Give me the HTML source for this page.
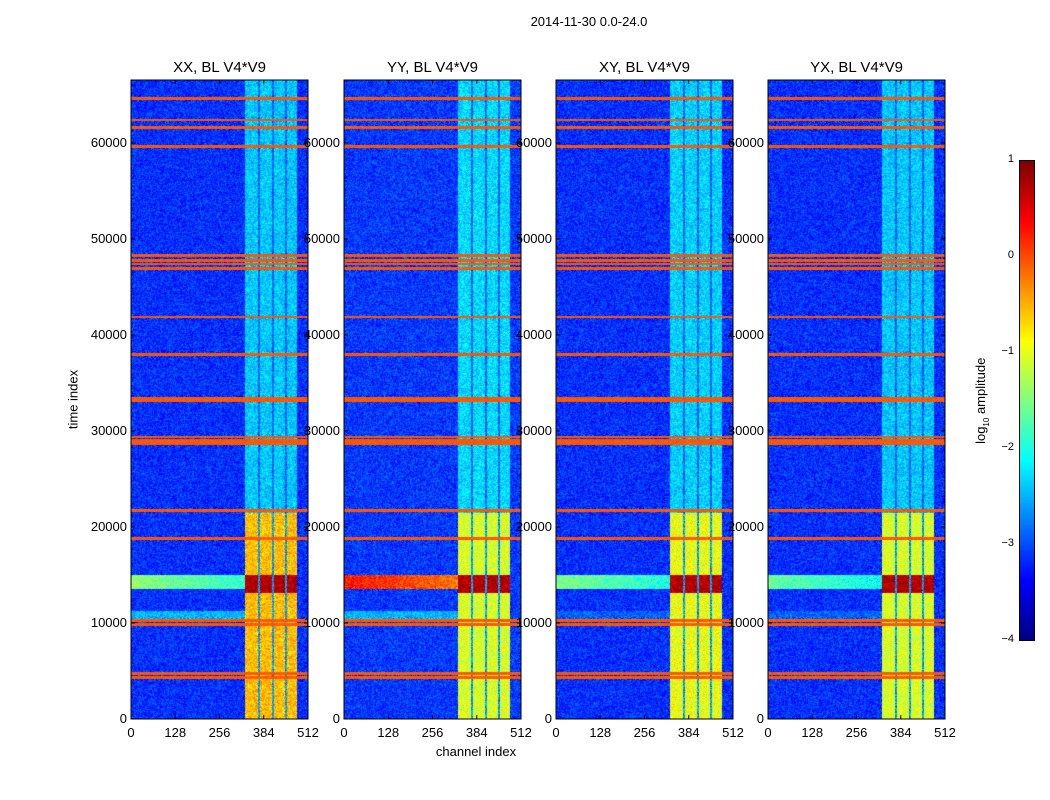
<!DOCTYPE html>
<html><head><meta charset="utf-8">
<style>
body{margin:0;background:#fff;width:1050px;height:800px;position:relative;overflow:hidden;font-family:"Liberation Sans",sans-serif;color:#000}
.t{position:absolute;font-size:13px;white-space:nowrap}
canvas{position:absolute}
</style></head><body>
<div class="t" style="left:489px;top:14px;width:200px;text-align:center">2014-11-30 0.0-24.0</div>
<div class="t" style="left:376px;top:744px;width:200px;text-align:center">channel index</div>
<div class="t" style="left:23px;top:392px;width:100px;text-align:center;transform:rotate(-90deg)">time index</div>
<div class="t" style="left:922px;top:392px;width:120px;text-align:center;transform:rotate(-90deg)">log<sub style="font-size:8px">10</sub> amplitude</div>
<canvas id="cb" width="15" height="480" style="left:1019px;top:160px;border:1px solid #000;box-sizing:border-box;width:16px;height:481px"></canvas>
<div id="root"></div>
<script>
// data
const panelTitles = ["XX, BL V4*V9","YY, BL V4*V9","XY, BL V4*V9","YX, BL V4*V9"];
const xTicks = [0,128,256,384,512];
const yTicks = [0,10000,20000,30000,40000,50000,60000];
const cbTicks = [1,0,-1,-2,-3,-4];
const rfiRows = [64690,62400,61670,59690,48330,47810,47400,46980,41880,38020,33440,33130,29380,29060,28750,21770,18850,10310,9900,4790,4380];
const bandStarts = [327,373,411,449];
const bandEnds = [365,405,443,480];
const backgroundLevel = [-3.15,-3.1,-3.15,-3.15];
const bandUpperLevel = [-2.4,-2.3,-2.35,-2.4];
const bandLowerLevel = [-0.55,-1.05,-0.95,-1.05];
const crossBandLevel = [-1.4,0.3,-1.5,-1.6];
const cyanStripLevel = [-2.5,-2.5,-2.9,-2.9];
const coreLevel = 0.75, rfiLevel = -0.05;
const tMax = 66560, chMax = 512;
const vMin = -4, vMax = 1;

function jet(v){
  let x=(v-vMin)/(vMax-vMin); x=Math.max(0,Math.min(1,x));
  const f=(a)=>Math.max(0,Math.min(1,1.5-Math.abs(4*x-a)));
  return [f(3)*255,f(2)*255,f(1)*255];
}
function hash(a,b){let h=(a*374761393+b*668265263)|0;h=(h^(h>>>13))*1274126177|0;return ((h^(h>>>16))>>>0)/4294967296;}
function isRfi(t){ for(const r of rfiRows){ if(Math.abs(t-r)<110) return true; } return false; }
function value(p,ch,t){
  let inBand=-1;
  for(let i=0;i<bandStarts.length;i++) if(ch>=bandStarts[i]&&ch<=bandEnds[i]) inBand=i;
  if(inBand>=0){
    if(t>=13200&&t<=15000) return coreLevel;
    if(t>21500) return bandUpperLevel[p];
    return bandLowerLevel[p];
  }
  if(t>=13600&&t<=15000 && ch<bandStarts[0]) return crossBandLevel[p]-(ch/bandStarts[0])*0.5;
  if(t>=10300&&t<=11250 && ch<bandStarts[0]) return cyanStripLevel[p];
  if(ch>bandStarts[0] && ch<bandEnds[3]) return t>21500?-2.9:-2.6;
  return backgroundLevel[p];
}
const L=[131,344,556,768], T=80, W=177, H=639;
const sx=(ch)=>ch/chMax*W, sy=(t)=>H - t/tMax*H;
const root=document.getElementById('root');
panelTitles.forEach((title,p)=>{
  const c=document.createElement('canvas');
  c.width=W;c.height=H;
  c.style.left=L[p]+'px';c.style.top=T+'px';
  
  
  const ctx=c.getContext('2d');const img=ctx.createImageData(W,H);
  for(let y=0;y<H;y++){const t=(H-y)/H*tMax;const rfi=isRfi(t);
    for(let x=0;x<W;x++){const ch=x/W*chMax;
      const v=rfi?rfiLevel+(hash(x+p*997,y)-0.5)*0.15:value(p,ch,t)+(hash(x+p*997,y)-0.5)*0.7;
      const col=jet(v);const k=(y*W+x)*4;
      img.data[k]=col[0];img.data[k+1]=col[1];img.data[k+2]=col[2];img.data[k+3]=255;}}
  ctx.putImageData(img,0,0);
  root.appendChild(c);
  const svgNS='http://www.w3.org/2000/svg';
  const s=document.createElementNS(svgNS,'svg');
  s.setAttribute('width',W+2);s.setAttribute('height',H+2);
  s.style.position='absolute';s.style.left=(L[p]-1)+'px';s.style.top=(T-1)+'px';
  
  
  let inner=`<rect x="1" y="1" width="${W}" height="${H}" fill="none" stroke="#000"/>`;
  xTicks.forEach(v=>{const x=1+sx(v);inner+=`<line x1="${x}" x2="${x}" y1="${H+1}" y2="${H-3}" stroke="#000"/><line x1="${x}" x2="${x}" y1="1" y2="5" stroke="#000"/>`;});
  yTicks.forEach(v=>{const y=1+sy(v);inner+=`<line x1="1" x2="5" y1="${y}" y2="${y}" stroke="#000"/><line x1="${W-3}" x2="${W+1}" y1="${y}" y2="${y}" stroke="#000"/>`;});
  s.innerHTML=inner;root.appendChild(s);
  const tt=document.createElement('div');tt.className='t';
  
  
  tt.style.cssText=`left:${L[p]}px;top:59px;width:${W}px;text-align:center;font-size:15px`;
  tt.textContent=title;root.appendChild(tt);
  xTicks.forEach(v=>{const d=document.createElement('div');d.className='t';
    
    
    d.style.cssText=`left:${L[p]+sx(v)-20}px;top:725px;width:40px;text-align:center`;d.textContent=v;root.appendChild(d);});
  yTicks.forEach(v=>{const d=document.createElement('div');d.className='t';
    
    
    d.style.cssText=`left:${L[p]-64}px;top:${T+sy(v)-8}px;width:60px;text-align:right`;d.textContent=v;root.appendChild(d);});
});
const cb=document.getElementById('cb').getContext('2d');
for(let y=0;y<480;y++){const v=vMax-(y/480)*(vMax-vMin);const c=jet(v);cb.fillStyle=`rgb(${c[0]|0},${c[1]|0},${c[2]|0})`;cb.fillRect(0,y,15,1);}
cbTicks.forEach(v=>{const y=160+(vMax-v)/(vMax-vMin)*480;
  const d=document.createElement('div');d.className='t';
  
  
  d.style.cssText=`left:975px;top:${y-7}px;width:39px;text-align:right;font-size:11px`;
  d.textContent=v<0?'\u2212'+(-v):v;root.appendChild(d);});
</script>
</body></html>
